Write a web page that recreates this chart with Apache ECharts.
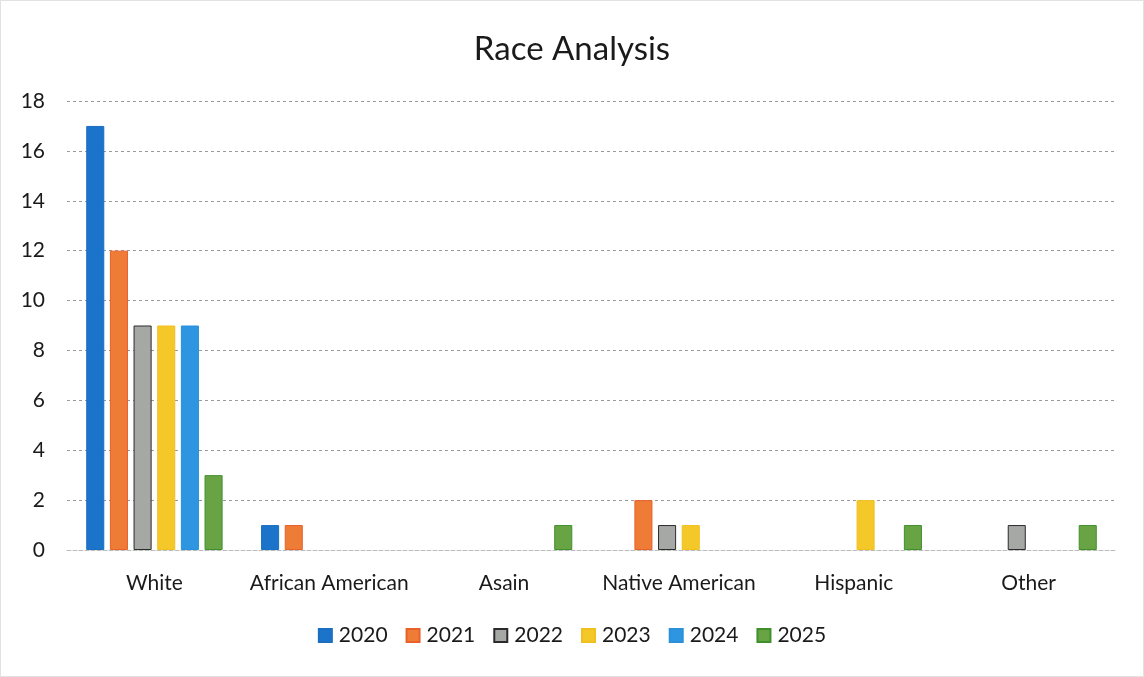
<!DOCTYPE html>
<html>
<head>
<meta charset="utf-8">
<script src="https://cdn.jsdelivr.net/npm/echarts@6/dist/echarts.min.js"></script>
<style>
html,body{margin:0;padding:0;background:#fff;}
#c{width:1144px;height:677px;box-sizing:border-box;border:1px solid #e2e2e2;}
</style>
</head>
<body>
<div id="c"></div>
<script>
const categories = ["White", "African American", "Asain", "Native American", "Hispanic", "Other"];
const years = ["2020", "2021", "2022", "2023", "2024", "2025"];
const s2020 = [17, 1, 0, 0, 0, 0];
const s2021 = [12, 1, 0, 2, 0, 0];
const s2022 = [9, 0, 0, 1, 0, 1];
const s2023 = [9, 0, 0, 1, 2, 0];
const s2024 = [9, 0, 0, 0, 0, 0];
const s2025 = [3, 0, 1, 0, 1, 1];
const yTicks = [0, 2, 4, 6, 8, 10, 12, 14, 16, 18];

const seriesData = [s2020, s2021, s2022, s2023, s2024, s2025];
const colors = ["#1b74c9", "#ee7b36", "#a6a8a6", "#f5c829", "#2e96e0", "#69a444"];
const borders = ["#1b6fc2", "#e8612a", "#2b2b2b", "#f0c020", "#2a90dc", "#3f8f2c"];

const chart = echarts.init(document.getElementById('c'));
const font = 'Lato, "Open Sans", sans-serif';
chart.setOption({
  animation: false,
  title: {
    text: 'Race Analysis', left: 'center', top: 27,
    textStyle: {fontFamily: font, fontSize: 33, fontWeight: 'normal', color: '#1a1a1a'}
  },
  legend: {
    bottom: 25, left: 'center', itemWidth: 13, itemHeight: 13, itemGap: 18,
    icon: 'rect',
    textStyle: {fontFamily: font, fontSize: 21, color: '#1a1a1a', padding: [0, 0, 0, 2]},
    data: years
  },
  grid: {left: 66, right: 27, top: 100, bottom: 126, containLabel: false},
  xAxis: {
    type: 'category', data: categories,
    axisLine: {show: true, lineStyle: {color: '#bbb', type: 'dashed'}},
    axisTick: {show: false},
    axisLabel: {fontFamily: font, fontSize: 21, color: '#1a1a1a', margin: 23, interval: 0}
  },
  yAxis: {
    type: 'value', min: 0, max: 18, interval: 2,
    axisLine: {show: false}, axisTick: {show: false},
    axisLabel: {fontFamily: font, fontSize: 21, color: '#1a1a1a', margin: 22,
      formatter: v => yTicks.includes(v) ? String(v) : ''},
    splitLine: {lineStyle: {color: '#9a9a9a', type: [3, 3], width: 1}}
  },
  series: years.map((y, i) => ({
    name: y, type: 'bar',
    data: seriesData[i].map(v => v === 0 ? {value: v, itemStyle: {borderWidth: 0, opacity: 0}} : v),
    barGap: '31%', barCategoryGap: '22%',
    itemStyle: {color: colors[i], borderColor: borders[i], borderWidth: 1}
  }))
});
</script>
</body>
</html>
